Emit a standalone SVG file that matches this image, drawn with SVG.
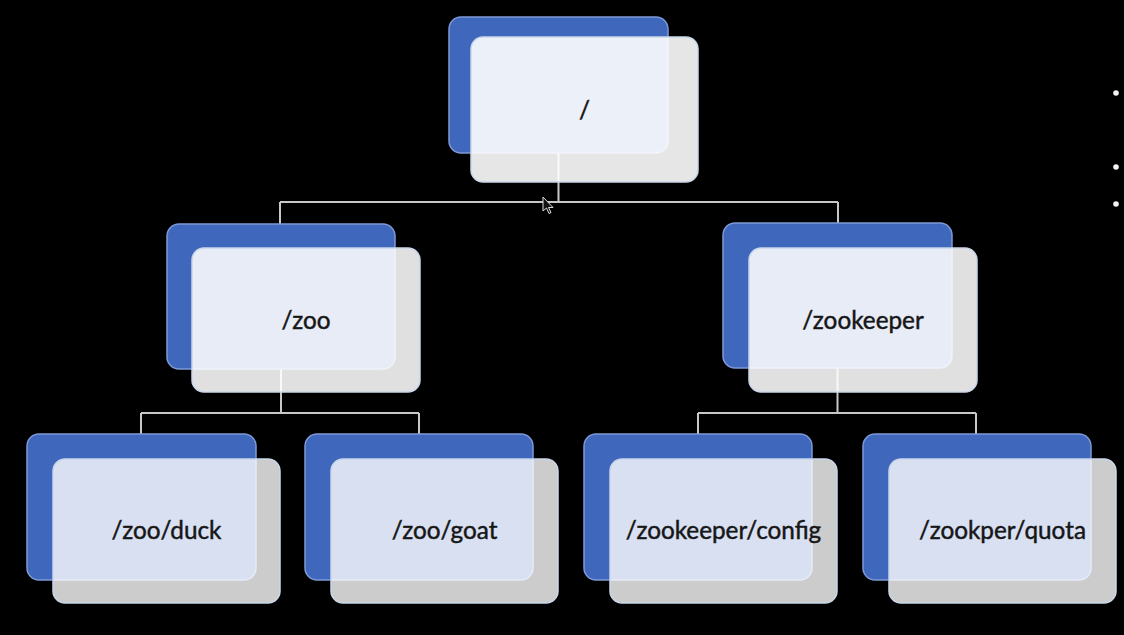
<svg xmlns="http://www.w3.org/2000/svg" width="1124" height="635" viewBox="0 0 1124 635">
<style>
.bg{fill:#000}
.back{fill:#3f67bc;stroke:#7d9ad6;stroke-width:1.5}
.front{fill:#ffffff;stroke:#c9d6ea;stroke-width:1.5}
.r1{fill-opacity:0.9}
.r2{fill-opacity:0.88}
.r3{fill-opacity:0.8}
.lbl{font-family:Lato,"Liberation Sans",sans-serif;font-size:24.3px;fill:#161616;stroke:#161616;stroke-width:0.45;text-anchor:middle}
.conn{fill:none;stroke:#c8c8c8;stroke-width:2}
.dot{fill:#f4f4f4}
</style>
<rect class="bg" x="0" y="0" width="1124" height="635"/>
<g id="connectors">
<path class="conn" d="M558.5 153 V202 M280 202 H838 M280 202 V224 M838 202 V223"/>
<path class="conn" d="M281 369 V413 M141 413 H419 M141 413 V434 M419 413 V434"/>
<path class="conn" d="M837.5 368 V413 M698 413 H976 M698 413 V434 M976 413 V434"/>
</g>
<g id="node-root">
<rect class="back" x="449" y="17" width="219" height="136" rx="12"/>
<rect class="front r1" x="471" y="37" width="227" height="145" rx="12"/>
<text class="lbl" x="584.5" y="119">/</text>
</g>
<g id="node-zoo">
<rect class="back" x="167" y="224" width="228" height="145" rx="12"/>
<rect class="front r2" x="192" y="248" width="228" height="144" rx="12"/>
<text class="lbl" x="306" y="329">/zoo</text>
</g>
<g id="node-zookeeper">
<rect class="back" x="723" y="223" width="229" height="145" rx="12"/>
<rect class="front r2" x="749" y="248" width="228" height="144" rx="12"/>
<text class="lbl" x="863" y="329">/zookeeper</text>
</g>
<g id="node-duck">
<rect class="back" x="27" y="434" width="229" height="146" rx="12"/>
<rect class="front r3" x="53" y="459" width="227" height="144" rx="12"/>
<text class="lbl" x="166.5" y="539">/zoo/duck</text>
</g>
<g id="node-goat">
<rect class="back" x="305" y="434" width="228" height="146" rx="12"/>
<rect class="front r3" x="331" y="459" width="227" height="144" rx="12"/>
<text class="lbl" x="444.5" y="539">/zoo/goat</text>
</g>
<g id="node-config">
<rect class="back" x="584" y="434" width="228" height="146" rx="12"/>
<rect class="front r3" x="610" y="459" width="227" height="144" rx="12"/>
<text class="lbl" x="723.5" y="539">/zookeeper/config</text>
</g>
<g id="node-quota">
<rect class="back" x="863" y="434" width="228" height="146" rx="12"/>
<rect class="front r3" x="889" y="459" width="227" height="144" rx="12"/>
<text class="lbl" x="1002.5" y="539">/zookper/quota</text>
</g>
<g id="bullets">
<circle class="dot" cx="1116" cy="93" r="2.8"/>
<circle class="dot" cx="1116" cy="167" r="2.8"/>
<circle class="dot" cx="1116" cy="204" r="2.8"/>
</g>
<polygon points="543,197 543,211 546.5,208 549,213.5 551,212.5 548.5,207.5 553,207.5" fill="#111" stroke="#ddd" stroke-width="1"/>
</svg>
